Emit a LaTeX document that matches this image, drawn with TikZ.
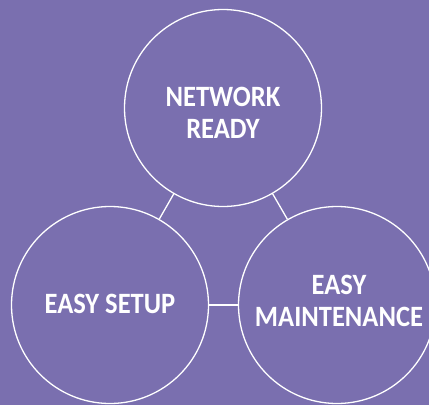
\documentclass[tikz,border=0pt]{standalone}
\usepackage{fontspec}
\setmainfont{Carlito}
\newfontfamily\labfont[FakeStretch=0.9]{Carlito}
\definecolor{bgpurple}{HTML}{7A6FAF}
\begin{document}
\begin{tikzpicture}[x=1pt,y=-1pt,
  bubble/.style={circle,draw=white,line width=1.3pt,fill=bgpurple,minimum size=197pt,inner sep=0pt},
  caption/.style={text=white,align=center,inner sep=0pt,font=\labfont\bfseries\fontsize{29.5}{32}\selectfont},
  link/.style={draw=white,line width=1.3pt}]
\fill[bgpurple] (0,0) rectangle (429,405);
\useasboundingbox (0,0) rectangle (429,405);
\node[bubble] (top) at (223,108) {};
\node[bubble] (left) at (110,305) {};
\node[bubble] (right) at (337,305) {};
\node[caption] (topt) at (223,112.5) {NETWORK\\READY};
\node[caption] (leftt) at (110,304.3) {EASY SETUP};
\node[caption] (rightt) at (339,300.7) {EASY\\MAINTENANCE};
\draw[link] (top) -- (left);
\draw[link] (top) -- (right);
\draw[link] (left) -- (right);
\end{tikzpicture}
\end{document}
